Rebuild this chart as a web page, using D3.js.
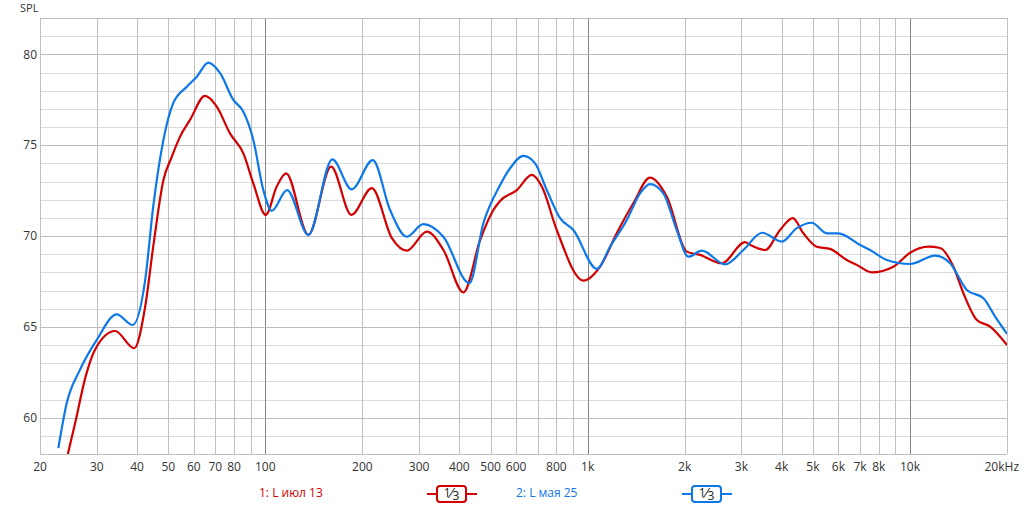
<!DOCTYPE html>
<html>
<head>
<meta charset="utf-8">
<script src="https://cdn.jsdelivr.net/npm/d3@7"></script>
<style>
  html, body { margin: 0; padding: 0; background: #fff; }
  svg { display: block; font-family: "Open Sans", "Noto Sans", sans-serif; }
</style>
</head>
<body>
<svg id="chart" width="1027" height="505"></svg>
<script>
// ---------- data ----------
const redFreq = [24.4, 25.7, 27.7, 29.6, 34.2, 39.2, 42.4, 44.9, 48.3, 51.3, 54.4, 58.4, 65.0, 70.7, 77.7, 85.5, 91.8, 100.3, 108.5, 116, 136, 160, 185, 214, 247, 275, 317, 357, 412, 464, 510, 535, 603, 671, 721, 802, 970, 1093, 1231, 1386, 1562, 1760, 2030, 2232, 2607, 3079, 3200, 3553, 3954, 4330, 4670, 5140, 5651, 6368, 6840, 7612, 8884, 10010, 11410, 12400, 13640, 14650, 16120, 17730, 20000];
const redSpl  = [58.0, 59.69, 62.26, 63.73, 64.77, 63.82, 66.11, 69.41, 73.08, 74.37, 75.47, 76.39, 77.71, 77.12, 75.65, 74.55, 72.90, 71.16, 72.72, 73.45, 70.06, 73.82, 71.16, 72.63, 69.88, 69.19, 70.24, 69.23, 66.90, 69.78, 71.43, 71.93, 72.53, 73.36, 72.72, 70.33, 67.54, 68.31, 70.15, 71.80, 73.21, 72.17, 69.14, 68.96, 68.50, 69.66, 69.5, 69.23, 70.33, 70.98, 70.15, 69.41, 69.29, 68.68, 68.41, 68.00, 68.31, 69.08, 69.41, 69.34, 68.31, 66.85, 65.38, 65.01, 64.00];

const blueFreq = [22.8, 24.2, 26.6, 30.0, 34.6, 38.8, 42.4, 44.9, 48.3, 51.8, 57.1, 61.3, 66.6, 72.4, 79.6, 85.5, 91.8, 98.6, 104.7, 116.8, 136, 161.4, 185.4, 215.5, 243.8, 274.6, 309.2, 356.8, 429.6, 474.8, 535, 574.6, 631.8, 687, 746.8, 821.4, 903, 1068, 1174, 1323, 1454, 1562, 1718, 1890, 2054, 2260, 2670, 3042, 3480, 4002, 4454, 4960, 5520, 5998, 7002, 7520, 8472, 10010, 11970, 13320, 15010, 16900, 18380, 20000];
const blueSpl  = [58.32, 60.79, 62.63, 64.28, 65.69, 65.10, 67.58, 71.61, 75.29, 77.31, 78.22, 78.77, 79.54, 78.96, 77.49, 76.84, 75.29, 72.53, 71.39, 72.53, 70.06, 74.22, 72.57, 74.18, 71.43, 69.96, 70.65, 69.96, 67.40, 70.70, 72.8, 73.73, 74.41, 74.0, 72.53, 70.98, 70.33, 68.19, 69.41, 70.88, 72.35, 72.86, 72.35, 70.33, 68.86, 69.19, 68.44, 69.23, 70.18, 69.69, 70.43, 70.73, 70.15, 70.15, 69.51, 69.23, 68.68, 68.46, 68.92, 68.50, 67.03, 66.57, 65.56, 64.61];

const xGridValues = [20,30,40,50,60,70,80,90,100,200,300,400,500,600,700,800,900,1000,2000,3000,4000,5000,6000,7000,8000,9000,10000,20000];
const xDecades = [100, 1000, 10000];
const xTickValues = [20,30,40,50,60,70,80,100,200,300,400,500,600,800,1000,2000,3000,4000,5000,6000,7000,8000,10000];
const xTickLabels = ["20","30","40","50","60","70","80","100","200","300","400","500","600","800","1k","2k","3k","4k","5k","6k","7k","8k","10k"];
const yMajorTicks = [60, 65, 70, 75, 80];
const yMinorTicks = d3.range(58, 83, 1);

const series = [
  { name: "1: L июл 13", freq: redFreq, spl: redSpl, color: "#d20000" },
  { name: "2: L мая 25", freq: blueFreq, spl: blueSpl, color: "#0d78e8" }
];

// ---------- layout ----------
const svg = d3.select("#chart");
const L = 40, R = 1007, T = 18, B = 454;
const x = d3.scaleLog().domain([20, 20000]).range([L, R]);
const y = d3.scaleLinear().domain([58, 82]).range([B, T]);

// grid
const g = svg.append("g");
g.selectAll("line.hmin").data(yMinorTicks.filter(v => v % 5 !== 0)).join("line")
  .attr("x1", L).attr("x2", R)
  .attr("y1", d => Math.round(y(d)) + 0.5).attr("y2", d => Math.round(y(d)) + 0.5)
  .attr("stroke", "#dcdcdc").attr("stroke-width", 1);
g.selectAll("line.vgrid").data(xGridValues).join("line")
  .attr("x1", d => Math.round(x(d)) + 0.5).attr("x2", d => Math.round(x(d)) + 0.5)
  .attr("y1", T).attr("y2", B)
  .attr("stroke", d => xDecades.includes(d) ? "#858585" : "#c0c0c0").attr("stroke-width", 1);
g.selectAll("line.hmaj").data(yMajorTicks).join("line")
  .attr("x1", L).attr("x2", R)
  .attr("y1", d => Math.round(y(d)) + 0.5).attr("y2", d => Math.round(y(d)) + 0.5)
  .attr("stroke", "#bdbdbd").attr("stroke-width", 1);
// frame top/bottom
g.append("line").attr("x1", L).attr("x2", R).attr("y1", T + 0.5).attr("y2", T + 0.5).attr("stroke", "#bdbdbd");
g.append("line").attr("x1", L).attr("x2", R).attr("y1", B + 0.5).attr("y2", B + 0.5).attr("stroke", "#bdbdbd");

// axis labels
const textColor = "#333";
svg.append("g").selectAll("text").data(yMajorTicks).join("text")
  .attr("x", 37).attr("y", d => y(d)).attr("dy", "0.35em")
  .attr("text-anchor", "end").attr("font-size", 12).attr("fill", textColor)
  .text(d => d);
svg.append("text").attr("x", 20).attr("y", 12).attr("font-size", 11).attr("fill", textColor).text("SPL");

svg.append("g").selectAll("text").data(xTickValues).join("text")
  .attr("x", d => x(d)).attr("y", 467).attr("dy", "0.35em")
  .attr("text-anchor", "middle").attr("font-size", 12).attr("fill", textColor)
  .text((d, i) => xTickLabels[i]);
svg.append("text").attr("x", 1019).attr("y", 467).attr("dy", "0.35em")
  .attr("text-anchor", "end").attr("font-size", 12).attr("fill", textColor).text("20kHz");

// curves
svg.append("clipPath").attr("id", "plotclip").append("rect")
  .attr("x", L).attr("y", T).attr("width", R - L).attr("height", B - T);
const line = d3.line()
  .x(d => x(d[0])).y(d => y(d[1]))
  .curve(d3.curveMonotoneX);
const curves = svg.append("g").attr("clip-path", "url(#plotclip)");
series.forEach(s => {
  const pts = s.freq.map((f, i) => [f, s.spl[i]]);
  curves.append("path").datum(pts)
    .attr("d", line).attr("fill", "none")
    .attr("stroke", s.color).attr("stroke-width", 2.2)
    .attr("stroke-linejoin", "round");
});

// legend
const legendPos = [{ tx: 259, lx1: 427, bx: 437 }, { tx: 516, lx1: 682, bx: 692 }];
series.forEach((s, i) => {
  const p = legendPos[i];
  const lg = svg.append("g");
  lg.append("text").attr("x", p.tx).attr("y", 493).attr("dy", "0.35em")
    .attr("font-size", 12).attr("fill", s.color).text(s.name);
  lg.append("line").attr("x1", p.lx1).attr("x2", p.lx1 + 50).attr("y1", 494).attr("y2", 494)
    .attr("stroke", s.color).attr("stroke-width", 2);
  lg.append("rect").attr("x", p.bx).attr("y", 486).attr("width", 29).attr("height", 16).attr("rx", 3)
    .attr("fill", "#fff").attr("stroke", s.color).attr("stroke-width", 2);
  const t = lg.append("text").attr("x", p.bx + 14.5).attr("y", 498).attr("text-anchor", "middle")
    .attr("fill", "#222");
  t.append("tspan").attr("font-size", 12).attr("dy", -1).text("1");
  t.append("tspan").attr("font-size", 15).attr("dy", 1).text("⁄");
  t.append("tspan").attr("font-size", 12).attr("dy", 2).text("3");
});
</script>
</body>
</html>
